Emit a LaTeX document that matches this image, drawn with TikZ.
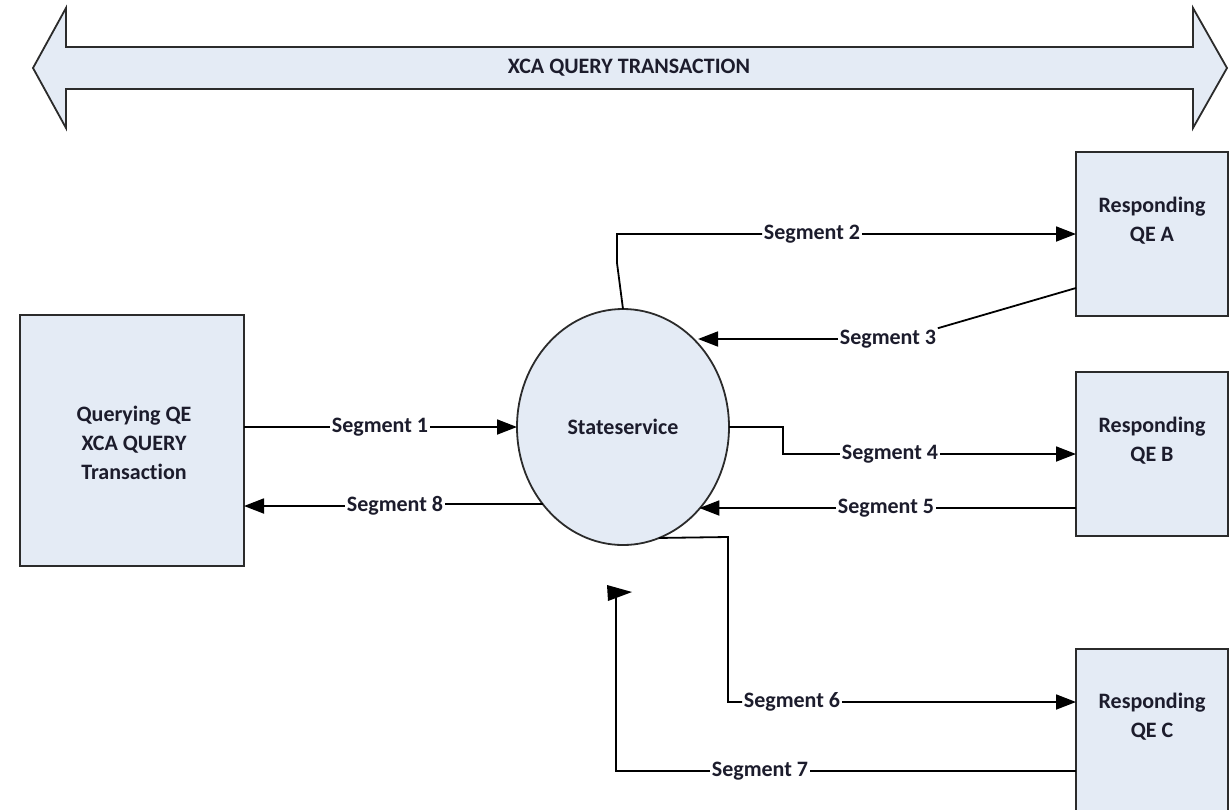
\documentclass[tikz,border=0pt]{standalone}
\usepackage{fontspec}
\setmainfont{Carlito}[Ligatures=NoCommon]
\usetikzlibrary{arrows.meta,shapes.geometric,calc}
\definecolor{boxfill}{HTML}{E4EBF5}
\definecolor{edge}{HTML}{2B2B2B}
\definecolor{ink}{HTML}{1C1C2C}

\begin{document}
\begin{tikzpicture}[x=1pt,y=-1pt,
  every node/.style={font=\fontsize{22}{29}\selectfont\bfseries, text=ink},
  entity/.style={draw=edge, line width=2pt, fill=boxfill, rectangle,
    inner sep=0pt, outer sep=0pt},
  caption/.style={align=center, inner sep=0pt},
  seglabel/.style={fill=white, inner sep=1.5pt},
  flow/.style={draw=black, line width=1.8pt},
  tip/.style={-{Triangle[length=20pt,width=15pt]}},
]
\useasboundingbox (0,0) rectangle (1232,809);
\clip (0,0) rectangle (1232,809);

% transaction banner (double-headed block arrow)
\draw[draw=edge, line width=1.8pt, fill=boxfill, line join=miter]
  (33,68) -- (66,8) -- (66,47) -- (1193,47) -- (1193,8) -- (1227,68)
  -- (1193,128) -- (1193,89) -- (66,89) -- (66,128) -- cycle;
\node (banner) at (629,68) {XCA QUERY TRANSACTION};

% querying entity
\node[entity, minimum width=224pt, minimum height=251pt] (qry) at (132,440.5) {};
\node[caption] (qrytext) at (134,443) {Querying QE\\XCA QUERY\\Transaction};

% responding entities
\node[entity, minimum width=152pt, minimum height=164pt] (qeA) at (1152,234) {};
\node[caption] (qeAtext) at (1152,221) {Responding\\QE A};
\node[entity, minimum width=152pt, minimum height=164pt] (qeB) at (1152,454) {};
\node[caption] (qeBtext) at (1152,441) {Responding\\QE B};
\node[entity, minimum width=152pt, minimum height=172pt] (qeC) at (1152,735) {};
\node[caption] (qeCtext) at (1152,717) {Responding\\QE C};

% state service
\node[ellipse, draw=edge, line width=1.8pt, fill=boxfill, minimum width=212pt,
  minimum height=236pt, inner sep=0pt, outer sep=0pt] (ss) at (623,427) {Stateservice};

% segment labels
\node[seglabel] (s1) at (380,427) {Segment 1};
\node[seglabel] (s2) at (812,234) {Segment 2};
\node[seglabel] (s3) at (888,339) {Segment 3};
\node[seglabel] (s4) at (890,454) {Segment 4};
\node[seglabel] (s5) at (886,508) {Segment 5};
\node[seglabel] (s6) at (792,702) {Segment 6};
\node[seglabel] (s7) at (760,771) {Segment 7};
\node[seglabel] (s8) at (395,506) {Segment 8};

% Segment 1
\draw[flow] (qry.east |- s1.west) -- (s1.west);
\draw[flow,tip] (s1.east) -- (ss.west);

% Segment 2
\coordinate (s2bend) at (617,263);
\draw[flow] (ss.north) -- (s2bend) |- (s2.west);
\draw[flow,tip] (s2.east) -- (s2.east -| qeA.west);

% Segment 3
\draw[flow] ($(qeA.south west)+(0,-28)$) -- (s3.north east);
\draw[flow,tip] (s3.west) -- (s3.west -| ss.48.6);

% Segment 4
\coordinate (s4bend) at (783,427);
\draw[flow] (ss.east) -- (s4bend) |- (s4.west);
\draw[flow,tip] (s4.east) -- (s4.east -| qeB.west);

% Segment 5
\draw[flow] (qeB.west |- s5.east) -- (s5.east);
\draw[flow,tip] (s5.west) -- (s5.west -| ss.313.6);

% Segment 6
\coordinate (s6bend) at (728,537);
\draw[flow] (ss.288.6) -- (s6bend) |- (s6.west);
\draw[flow,tip] (s6.east) -- (s6.east -| qeC.west);

% Segment 7
\coordinate (s7top) at (616,596);
\draw[flow] (qeC.west |- s7.east) -- (s7.east);
\draw[flow] (s7.west) -| (s7top);
\fill[black] ($(s7top)+(-9,-11)$) -- ($(s7top)+(16,-4)$) -- ($(s7top)+(-8,5)$) -- cycle;

% Segment 8
\draw[flow] (ss.224.6) -- (ss.224.6 -| s8.east);
\draw[flow,tip] (s8.west) -- (s8.west -| qry.east);
\end{tikzpicture}
\end{document}
